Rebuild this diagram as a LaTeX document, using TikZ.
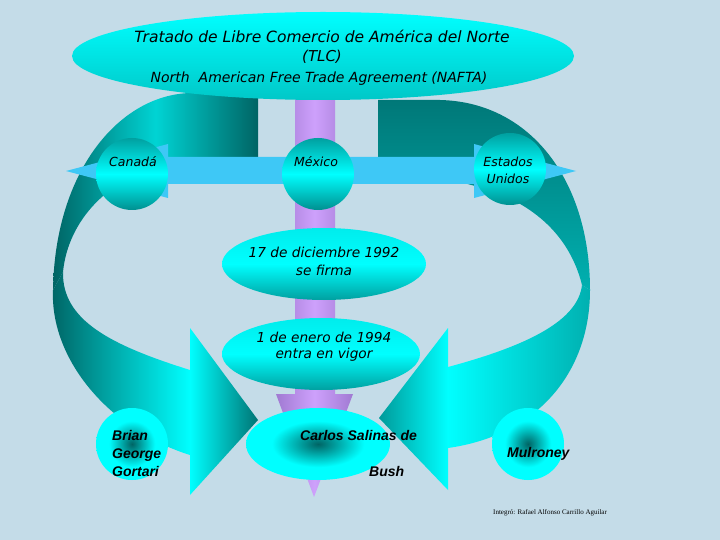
\documentclass[tikz,border=0pt]{standalone}
\usepackage{fontspec}
\setmainfont{DejaVu Sans}
\newfontfamily\arialfont{Liberation Sans}
\newfontfamily\timesfont{Liberation Serif}
\usetikzlibrary{shapes.geometric}
\definecolor{fondo}{RGB}{196,220,232}
\definecolor{cian}{RGB}{0,255,255}
\definecolor{tealosc}{RGB}{0,100,100}
\definecolor{tealmed}{RGB}{0,160,160}
\definecolor{tealtop}{RGB}{0,120,120}
\definecolor{tealcla}{RGB}{0,176,176}
\definecolor{azulbar}{RGB}{62,200,246}
\definecolor{lila}{RGB}{206,160,252}
\definecolor{lilaosc}{RGB}{160,122,210}
\pgfdeclareradialshading{centro}{\pgfpoint{0bp}{0bp}}{color(0bp)=(tealosc); color(16bp)=(cian); color(50bp)=(cian)}
\begin{document}
\begin{tikzpicture}[x=1pt,y=-1pt,
    pais/.style={circle,minimum size=72,inner sep=0,top color=tealmed,bottom color=tealmed!90!black,middle color=cian},
    fecha/.style={ellipse,minimum height=72,inner sep=0,top color=cian!80!tealmed,bottom color=tealmed,middle color=cian},
    lider/.style={inner sep=0,shade,shading=centro},
    comic/.style={inner sep=0,anchor=base,font=\itshape\fontsize{#1}{#1}\selectfont},
    negrita/.style={inner sep=0,anchor=base west,font=\arialfont\bfseries\itshape\fontsize{14}{14}\selectfont}]
  \fill[fondo] (0,0) rectangle (720,540);

  \shade[left color=tealosc,right color=tealosc,middle color=cian!72!tealosc]
    (258,94) -- (190,93) .. controls (120,95) and (55,170) .. (53,290) -- (63,272)
    .. controls (68,220) and (110,175) .. (170,165) -- (258,160) -- cycle;
  \shade[left color=tealosc,right color=cian]
    (53,290) .. controls (50,360) and (110,430) .. (190,455) -- (190,370)
    .. controls (110,345) and (62,320) .. (63,272) -- cycle;
  \shade[left color=cian,right color=tealosc!90!cian] (190,328) -- (258,420) -- (190,495) -- cycle;

  \shade[top color=tealtop,bottom color=tealcla]
    (378,100) -- (440,100) .. controls (530,102) and (590,180) .. (590,290) -- (582,285)
    .. controls (572,245) and (545,210) .. (490,190) -- (378,160) -- cycle;
  \shade[left color=cian,right color=tealcla]
    (590,290) .. controls (590,370) and (540,435) .. (448,448) -- (448,367)
    .. controls (530,345) and (578,320) .. (582,285) -- cycle;
  \shade[left color=tealmed!90!tealosc,right color=cian] (448,328) -- (379,418) -- (448,490) -- cycle;

  \shade[left color=lilaosc,right color=lilaosc,middle color=lila]
    (295,96) -- (335,96) -- (335,394) -- (353,394) -- (314,497) -- (276,394) -- (295,394) -- cycle;

  \node[ellipse,minimum width=502,minimum height=88,inner sep=0,top color=cian,bottom color=tealcla!70!cian] (tlc) at (323,56) {};

  \fill[azulbar] (66,171) -- (168,144) -- (168,157) -- (474,157) -- (474,144) -- (576,171)
    -- (474,198) -- (474,184) -- (168,184) -- (168,198) -- cycle;

  \node[pais] (canada) at (132,174) {};
  \node[pais] (mexico) at (318,174) {};
  \node[pais] (eeuu) at (510,169) {};
  \node[fecha,minimum width=204] (firma) at (324,264) {};
  \node[fecha,minimum width=198] (vigor) at (321,354) {};
  \node[lider,circle,minimum size=72] (brian) at (132,444) {};
  \node[lider,ellipse,minimum width=144,minimum height=72] (salinas) at (318,444) {};
  \node[lider,circle,minimum size=72] (mulroney) at (528,444) {};

  \node[comic=15.5] (titulo) at (322,43) {Tratado de Libre Comercio de América del Norte};
  \node[comic=15] (tlcsig) at (322,62) {(TLC)};
  \node[comic=14] (nafta) at (319,83) {North\ \ American Free Trade Agreement (NAFTA)};
  \node[comic=12.5] (tcanada) at (133,167) {Canadá};
  \node[comic=12.5] (tmexico) at (316,167) {México};
  \node[comic=12.5] (testados) at (508,167) {Estados};
  \node[comic=12.5] (tunidos) at (508,184) {Unidos};
  \node[comic=13.7] (tfirma) at (324,257) {17 de diciembre 1992};
  \node[comic=13.7] (tfirma2) at (324,275) {se firma};
  \node[comic=13.7] (tvigor) at (324,342) {1 de enero de 1994};
  \node[comic=13.7] (tvigor2) at (324,358) {entra en vigor};

  \node[negrita] (tbrian) at (112,440) {Brian};
  \node[negrita] (tgeorge) at (112,458) {George};
  \node[negrita] (tgortari) at (112,476) {Gortari};
  \node[negrita] (tcarlos) at (300,440) {Carlos Salinas de};
  \node[negrita] (tbush) at (369,476) {Bush};
  \node[negrita] (tmulroney) at (507,457) {Mulroney};
  \node[inner sep=0,anchor=base west,font=\timesfont\fontsize{7}{8}\selectfont] (autor) at (493,514) {Integró: Rafael Alfonso Carrillo Aguilar};
\end{tikzpicture}
\end{document}
